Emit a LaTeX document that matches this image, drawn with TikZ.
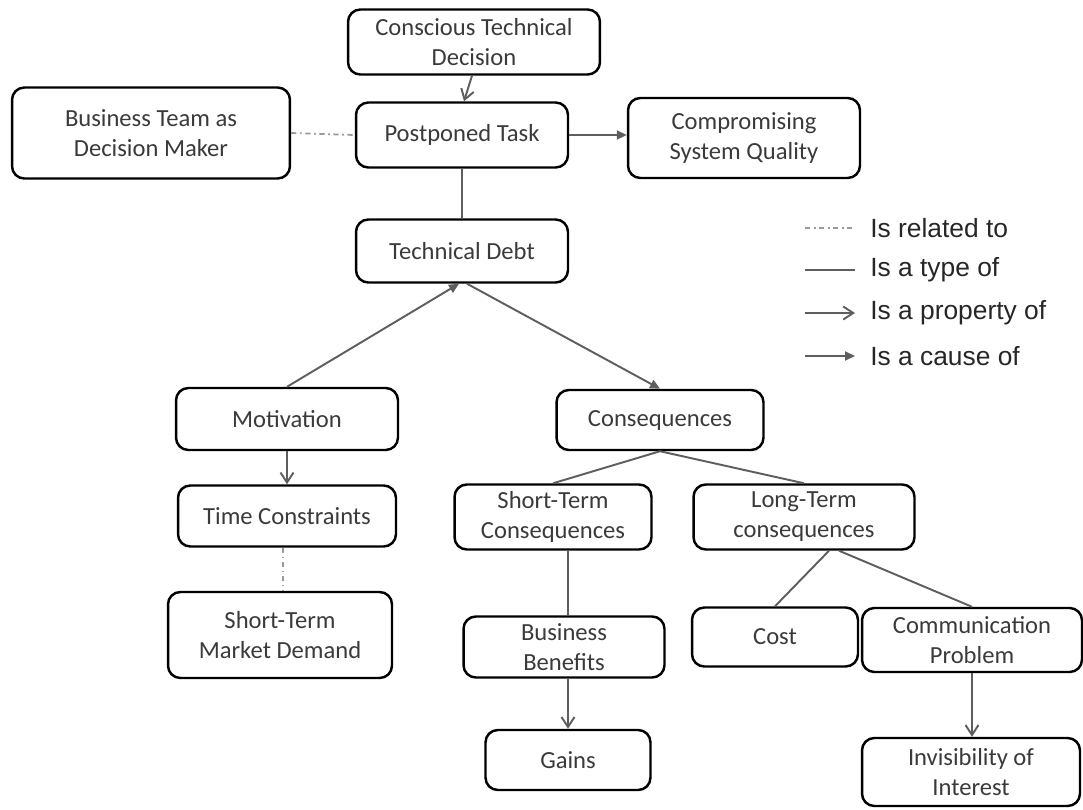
\documentclass[tikz,border=0pt]{standalone}
\usepackage{fontspec}
\usepackage{tikz}
\usetikzlibrary{arrows.meta, positioning, calc}
\setmainfont{Carlito}
\newfontfamily\legendfont{Liberation Sans}
\definecolor{boxtext}{HTML}{3A3A3A}
\definecolor{linkgray}{HTML}{5E5E5E}
\definecolor{relgray}{HTML}{9A9A9A}
\tikzset{
  concept/.style={draw=black, rounded corners=7pt, line width=1.4pt,
                  align=center, inner sep=0pt, text=boxtext,
                  font=\fontsize{14}{17}\selectfont},
  related/.style={draw=relgray, line width=1pt, dash dot},
  typeof/.style={draw=linkgray, line width=1.1pt},
  propof/.style={draw=linkgray, line width=1.1pt,
                 -{Straight Barb[length=2mm, width=2.6mm]}},
  causeof/.style={draw=linkgray, line width=1.1pt,
                  -{Triangle[length=2mm, width=1.8mm]}},
  legtext/.style={anchor=west, inner sep=0pt, text=black!85,
                  font=\legendfont\fontsize{15}{18}\selectfont}
}

\begin{document}
\begin{tikzpicture}[x=0.02cm, y=-0.02cm]
  \useasboundingbox (0,0) rectangle (1083,809);

  % concepts
  \node[concept, minimum width=5.04cm, minimum height=1.30cm] (ctd) at (474,42) {Conscious Technical\\Decision};
  \node[concept, minimum width=5.56cm, minimum height=1.82cm] (btdm) at (151,133) {Business Team as\\Decision Maker};
  \node[concept, minimum width=4.24cm, minimum height=1.30cm] (pt) at (462,135) {Postponed Task};
  \node[concept, minimum width=4.64cm, minimum height=1.60cm] (csq) at (744,138) {Compromising\\System Quality};
  \node[concept, minimum width=4.24cm, minimum height=1.26cm] (td) at (462,251) {Technical Debt};
  \node[concept, minimum width=4.44cm, minimum height=1.24cm] (mot) at (287,419) {Motivation};
  \node[concept, minimum width=4.14cm, minimum height=1.20cm] (cons) at (660,420) {Consequences};
  \node[concept, minimum width=4.36cm, minimum height=1.22cm] (tc) at (287,516) {Time Constraints};
  \node[concept, minimum width=3.94cm, minimum height=1.30cm] (stc) at (553,517) {Short-Term\\Consequences};
  \node[concept, minimum width=4.42cm, minimum height=1.30cm] (ltc) at (804,517) {Long-Term\\consequences};
  \node[concept, minimum width=4.48cm, minimum height=1.72cm] (stmd) at (280,635) {Short-Term\\Market Demand};
  \node[concept, minimum width=4.02cm, minimum height=1.22cm] (bb) at (564,647) {Business\\Benefits};
  \node[concept, minimum width=3.32cm, minimum height=1.18cm] (cost) at (775,637) {Cost};
  \node[concept, minimum width=4.40cm, minimum height=1.28cm] (cp) at (972,640) {Communication\\Problem};
  \node[concept, minimum width=3.30cm, minimum height=1.20cm] (gains) at (568,760) {Gains};
  \node[concept, minimum width=4.36cm, minimum height=1.36cm] (ioi) at (971,772) {Invisibility of\\Interest};

  % links
  \draw[propof] ([xshift=-0.04cm]ctd.south) -- ([xshift=0.04cm]pt.north);
  \draw[related] (btdm.east) -- (pt.west);
  \draw[causeof] (pt.east) -- (csq.west |- pt.east);
  \draw[typeof] (pt.south) -- (td.north);
  \draw[causeof] (mot.north) -- ([xshift=-0.06cm]td.south);
  \draw[causeof] ([xshift=0.1cm]td.south) -- (cons.north);
  \draw[propof] (mot.south) -- (tc.north);
  \draw[typeof] (cons.south) -- (stc.north);
  \draw[typeof] (cons.south) -- (ltc.north);
  \draw[related] ([xshift=-0.08cm]tc.south) -- ([xshift=-0.08cm]tc.south |- stmd.north);
  \draw[typeof] ([xshift=0.08cm]bb.north |- stc.south) -- ([xshift=0.08cm]bb.north);
  \draw[propof] ([xshift=0.08cm]bb.south) -- ([xshift=0.08cm]bb.south |- gains.north);
  \draw[typeof] ([xshift=0.5cm]ltc.south) -- (cost.north);
  \draw[typeof] ([xshift=0.7cm]ltc.south) -- (cp.north);
  \draw[propof] (cp.south) -- (cp.south |- ioi.north);

  % legend
  \node[legtext] (lrel) at (870,228) {Is related to};
  \node[legtext] (ltype) at (870,270) {Is a type of};
  \node[legtext] (lprop) at (870,313) {Is a property of};
  \node[legtext] (lcause) at (870,356) {Is a cause of};
  \draw[related] ([xshift=-1.3cm]lrel.west) -- ([xshift=-0.3cm]lrel.west);
  \draw[typeof] ([xshift=-1.3cm]ltype.west) -- ([xshift=-0.3cm]ltype.west);
  \draw[propof] ([xshift=-1.3cm]lprop.west) -- ([xshift=-0.3cm]lprop.west);
  \draw[causeof] ([xshift=-1.3cm]lcause.west) -- ([xshift=-0.3cm]lcause.west);
\end{tikzpicture}
\end{document}
